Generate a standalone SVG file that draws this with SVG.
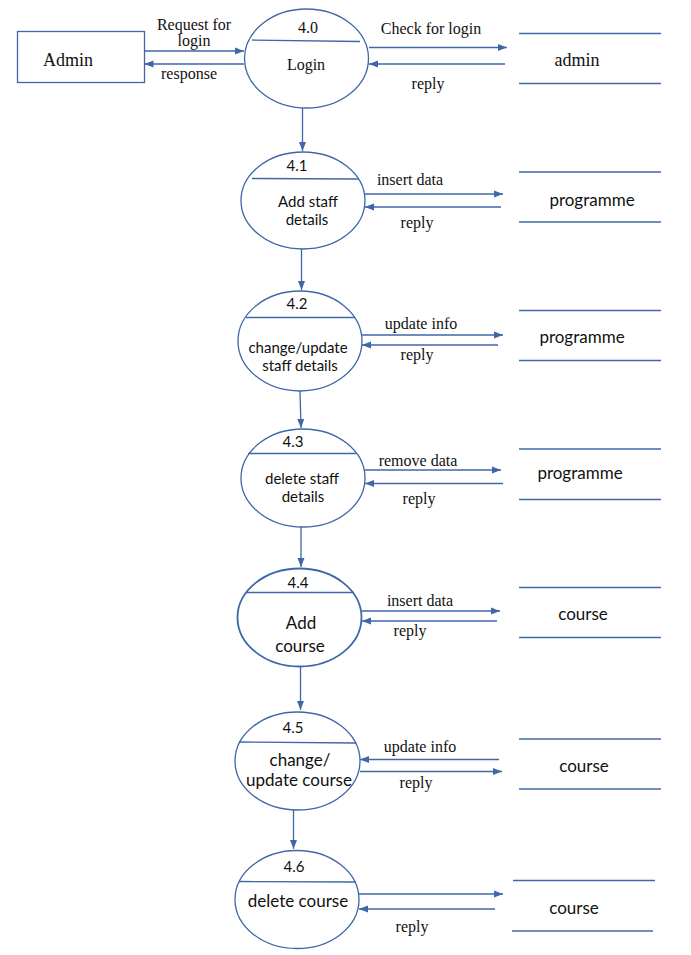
<svg xmlns="http://www.w3.org/2000/svg" width="691" height="955" viewBox="0 0 691 955">
  <style>
    .shape { fill: none; stroke: #3e67a8; stroke-width: 1.3; }
    .bold { stroke-width: 1.8; }
    .store { stroke: #3e67a8; stroke-width: 1.3; }
    .flow { stroke: #3e67a8; stroke-width: 1.3; fill: none; marker-end: url(#arrow); }
    text { font-family: "Liberation Serif", "Times New Roman", serif; fill: #111; text-anchor: middle; }
    .s { font-size: 16px; }
    .l { font-size: 18px; }
    .ss { font-family: Lato, "Liberation Sans", sans-serif; font-size: 15px; }
    .sl { font-family: Lato, "Liberation Sans", sans-serif; font-size: 17px; }
  </style>
  <defs>
    <marker id="arrow" markerUnits="userSpaceOnUse" markerWidth="9" markerHeight="8" refX="9" refY="4" orient="auto">
      <path d="M0,0.5 L9,4 L0,7.5 z" fill="#3e67a8"/>
    </marker>
  </defs>

  <!-- external entity -->
  <g id="admin-entity">
    <rect class="shape" x="17.5" y="31.5" width="127" height="51"/>
    <text class="l" x="68" y="66">Admin</text>
  </g>

  <!-- processes -->
  <g id="p4-0">
    <ellipse class="shape" cx="306.5" cy="58.5" rx="62" ry="49.5"/>
    <line class="store" x1="252" y1="40" x2="360" y2="41.5"/>
    <text class="s" x="308" y="33">4.0</text>
    <text class="s" x="306" y="70">Login</text>
  </g>
  <g id="p4-1">
    <ellipse class="shape" cx="303" cy="200.5" rx="62" ry="48.5"/>
    <line class="store" x1="252" y1="178.5" x2="359" y2="179"/>
    <text class="ss" x="297" y="171">4.1</text>
    <text class="ss" x="308" y="207">Add staff</text>
    <text class="ss" x="307" y="225">details</text>
  </g>
  <g id="p4-2">
    <ellipse class="shape" cx="300" cy="341" rx="62" ry="50"/>
    <line class="store" x1="246" y1="317.5" x2="355" y2="317.5"/>
    <text class="ss" x="297" y="309">4.2</text>
    <text class="ss" x="298" y="353">change/update</text>
    <text class="ss" x="300" y="371">staff details</text>
  </g>
  <g id="p4-3">
    <ellipse class="shape" cx="303" cy="478" rx="62" ry="49"/>
    <line class="store" x1="248" y1="453.5" x2="356" y2="453.5"/>
    <text class="ss" x="293" y="447">4.3</text>
    <text class="ss" x="302" y="484">delete staff</text>
    <text class="ss" x="303" y="502">details</text>
  </g>
  <g id="p4-4">
    <ellipse class="shape bold" cx="299.5" cy="617.5" rx="62" ry="49"/>
    <line class="store bold" x1="246" y1="592.5" x2="354" y2="592.5"/>
    <text class="ss" x="298" y="588">4.4</text>
    <text class="sl" x="301" y="629">Add</text>
    <text class="sl" x="300" y="652">course</text>
  </g>
  <g id="p4-5">
    <ellipse class="shape" cx="297.5" cy="761" rx="62.5" ry="49"/>
    <line class="store" x1="239" y1="742" x2="356" y2="743"/>
    <text class="ss" x="293" y="733">4.5</text>
    <text class="sl" x="300" y="766">change/</text>
    <text class="sl" x="299" y="786">update course</text>
  </g>
  <g id="p4-6">
    <ellipse class="shape" cx="297" cy="899.5" rx="62" ry="49"/>
    <line class="store" x1="239" y1="881.5" x2="356" y2="882"/>
    <text class="ss" x="294" y="872">4.6</text>
    <text class="sl" x="298" y="907">delete course</text>
  </g>

  <!-- data stores -->
  <g id="ds-admin">
    <line class="store" x1="519" y1="33.5" x2="661" y2="33.5"/>
    <line class="store" x1="519" y1="83.5" x2="661" y2="83.5" stroke="#8aa6cf" stroke-width="1.6"/>
    <text class="l" x="577" y="66">admin</text>
  </g>
  <g id="ds-programme-1">
    <line class="store" x1="519" y1="172" x2="661" y2="172"/>
    <line class="store" x1="519" y1="222" x2="661" y2="222"/>
    <text class="sl" x="592" y="206">programme</text>
  </g>
  <g id="ds-programme-2">
    <line class="store" x1="519" y1="310.5" x2="661" y2="310.5"/>
    <line class="store" x1="519" y1="360.5" x2="661" y2="360.5"/>
    <text class="sl" x="582" y="343">programme</text>
  </g>
  <g id="ds-programme-3">
    <line class="store" x1="519" y1="449" x2="661" y2="449"/>
    <line class="store" x1="519" y1="499.5" x2="661" y2="499.5"/>
    <text class="sl" x="580" y="479">programme</text>
  </g>
  <g id="ds-course-1">
    <line class="store" x1="519" y1="587.5" x2="661" y2="587.5"/>
    <line class="store" x1="519" y1="637.5" x2="661" y2="637.5"/>
    <text class="sl" x="583" y="620">course</text>
  </g>
  <g id="ds-course-2">
    <line class="store" x1="519" y1="739" x2="661" y2="739"/>
    <line class="store" x1="519" y1="789" x2="661" y2="789"/>
    <text class="sl" x="584" y="772">course</text>
  </g>
  <g id="ds-course-3">
    <line class="store" x1="513" y1="880.5" x2="655" y2="880.5"/>
    <line class="store" x1="512" y1="931" x2="653" y2="931"/>
    <text class="sl" x="574" y="914">course</text>
  </g>

  <!-- connectors -->
  <g id="connectors">
    <line class="flow" x1="144.5" y1="51" x2="244" y2="51"/>
    <line class="flow" x1="244" y1="64" x2="144.5" y2="64"/>
    <line class="flow" x1="369" y1="47.5" x2="507" y2="47.5"/>
    <line class="flow" x1="505" y1="64" x2="369" y2="64"/>

    <line class="flow" x1="302.5" y1="108" x2="302.5" y2="151"/>
    <line class="flow" x1="365" y1="194" x2="503" y2="194"/>
    <line class="flow" x1="501" y1="207" x2="365" y2="207"/>

    <line class="flow" x1="301.5" y1="249" x2="301.5" y2="290"/>
    <line class="flow" x1="362" y1="335" x2="503" y2="335"/>
    <line class="flow" x1="498" y1="345" x2="362" y2="345"/>

    <line class="flow" x1="300" y1="391" x2="301" y2="428"/>
    <line class="flow" x1="365" y1="470" x2="501" y2="470"/>
    <line class="flow" x1="503" y1="483.5" x2="365" y2="483.5"/>

    <line class="flow" x1="301" y1="527" x2="301" y2="567"/>
    <line class="flow" x1="362" y1="611" x2="500" y2="611"/>
    <line class="flow" x1="497" y1="621" x2="362" y2="621"/>

    <line class="flow" x1="300.5" y1="667" x2="300.5" y2="710"/>
    <line class="flow" x1="499" y1="759.5" x2="360" y2="759.5"/>
    <line class="flow" x1="360" y1="771.5" x2="502" y2="771.5"/>

    <line class="flow" x1="293.5" y1="810" x2="293.5" y2="849"/>
    <line class="flow" x1="359" y1="894" x2="503" y2="894"/>
    <line class="flow" x1="495" y1="909" x2="359" y2="909"/>
  </g>

  <!-- flow labels -->
  <g id="labels">
    <text class="s" x="194" y="30">Request for</text>
    <text class="s" x="194" y="46">login</text>
    <text class="s" x="189" y="79">response</text>
    <text class="s" x="431" y="34">Check for login</text>
    <text class="s" x="428" y="89">reply</text>
    <text class="s" x="410" y="185">insert data</text>
    <text class="s" x="417" y="228">reply</text>
    <text class="s" x="421" y="329">update info</text>
    <text class="s" x="417" y="360">reply</text>
    <text class="s" x="418" y="466">remove data</text>
    <text class="s" x="419" y="504">reply</text>
    <text class="s" x="420" y="606">insert data</text>
    <text class="s" x="410" y="636">reply</text>
    <text class="s" x="420" y="752">update info</text>
    <text class="s" x="416" y="788">reply</text>
    <text class="s" x="412" y="932">reply</text>
  </g>
</svg>
